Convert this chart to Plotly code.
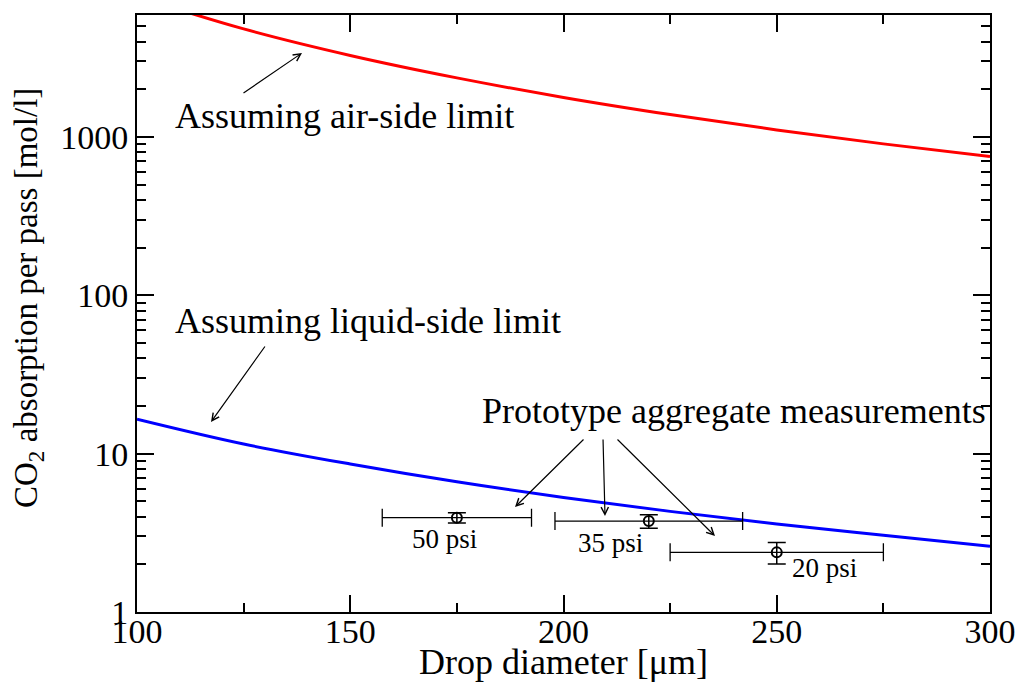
import plotly.graph_objects as go

# ---- data ----
diameter_curve = [100, 125, 150, 175, 200, 225, 250, 275, 300]
air_side_limit = [7720, 4810, 3270, 2360, 1776, 1384, 1107, 904, 752]
liquid_side_limit = [16.5, 11.5, 8.6, 6.64, 5.29, 4.32, 3.60, 3.05, 2.6]

meas_diameter = [175, 220, 250]
meas_diameter_err = [17.5, 22, 25]
meas_absorption = [3.94, 3.75, 2.38]
meas_absorption_err = [0.29, 0.37, 0.37]
meas_labels = ["50 psi", "35 psi", "20 psi"]

x_ticks = [100, 150, 200, 250, 300]
y_ticks = [1, 10, 100, 1000]
y_ticktext = ["1", "10", "100", "1000"]
y_minor = [m * 10 ** d for d in range(4) for m in range(2, 10) if m * 10 ** d < 6000]

FONT = "Liberation Serif"

# plot area in pixels (for annotation placement)
L, R, T, B = 137, 990, 15, 612
W, H = 1017, 682
def px(xp, yp):
    return (xp - L) / (R - L), (B - yp) / (B - T)

fig = go.Figure()
fig.add_trace(go.Scatter(x=diameter_curve, y=air_side_limit, mode="lines",
                         line=dict(color="#ff0000", width=3, shape="spline"),
                         showlegend=False))
fig.add_trace(go.Scatter(x=diameter_curve, y=liquid_side_limit, mode="lines",
                         line=dict(color="#0000ff", width=3, shape="spline"),
                         showlegend=False))
fig.add_trace(go.Scatter(x=meas_diameter, y=meas_absorption, mode="markers",
                         marker=dict(symbol="circle-open", size=10, color="black",
                                     line=dict(width=2, color="black")),
                         error_x=dict(type="data", array=meas_diameter_err, color="black",
                                      thickness=1.3, width=9),
                         error_y=dict(type="data", array=meas_absorption_err, color="black",
                                      thickness=1.5, width=9),
                         showlegend=False))

def text(s, xp, yp, size=36, xanchor="left"):
    x, y = px(xp, yp)
    fig.add_annotation(text=s, x=x, y=y, xref="paper", yref="paper",
                       xanchor=xanchor, yanchor="middle", showarrow=False,
                       font=dict(family=FONT, size=size, color="black"))

def arrow(tail, head):
    x, y = px(*head)
    fig.add_annotation(text="", x=x, y=y, xref="paper", yref="paper",
                       ax=tail[0] - head[0], ay=tail[1] - head[1],
                       axref="pixel", ayref="pixel", showarrow=True,
                       arrowhead=5, arrowsize=1.2, arrowwidth=1.2,
                       arrowcolor="black", standoff=0, startstandoff=0)

text("Assuming air-side limit", 173, 116)
text("Assuming liquid-side limit", 173, 321)
text("Prototype aggregate measurements", 480, 411)
text(meas_labels[0], 444, 539, size=27, xanchor="center")
text(meas_labels[1], 610, 543, size=27, xanchor="center")
text(meas_labels[2], 824, 568, size=27, xanchor="center")

arrow((242, 94), (302, 53))
arrow((266, 345), (211, 422))
arrow((585, 438), (515, 507))
arrow((603, 438), (605, 516))
arrow((616, 438), (715, 536))

# y axis title as rotated annotation
x0, y0 = px(28, 298)
fig.add_annotation(text="CO<sub>2</sub> absorption per pass [mol/l]",
                   x=x0, y=y0, xref="paper", yref="paper",
                   xanchor="center", yanchor="middle", textangle=-90,
                   showarrow=False, font=dict(family=FONT, size=33, color="black"))

fig.update_layout(
    width=W, height=H,
    margin=dict(l=L, r=W - R, t=T, b=H - B),
    plot_bgcolor="white", paper_bgcolor="white",
    xaxis=dict(range=[100, 300], tickvals=x_ticks, ticks="inside", ticklen=17,
               tickwidth=1.5, tickcolor="black", showline=True, linecolor="black",
               linewidth=2, mirror="ticks", showgrid=False, zeroline=False,
               tickfont=dict(family=FONT, size=34, color="black"),
               ticklabelstandoff=-12,
               minor=dict(dtick=25, ticks="inside", ticklen=9, tickwidth=1.5,
                          tickcolor="black", showgrid=False),
               title=dict(text="Drop diameter [μm]",
                          font=dict(family=FONT, size=36, color="black"),
                          standoff=12),
               automargin=False),
    yaxis=dict(type="log", range=[0, 3.77], tickvals=y_ticks, ticktext=y_ticktext,
               ticks="inside", ticklen=17, tickwidth=1.5, tickcolor="black",
               showline=True, linecolor="black", linewidth=2, mirror="ticks",
               showgrid=False, zeroline=False,
               tickfont=dict(family=FONT, size=34, color="black"),
               minor=dict(tickvals=y_minor, ticks="inside", ticklen=9, tickwidth=1.5,
                          tickcolor="black", showgrid=False),
               automargin=False),
)

fig.write_html("out.html")
